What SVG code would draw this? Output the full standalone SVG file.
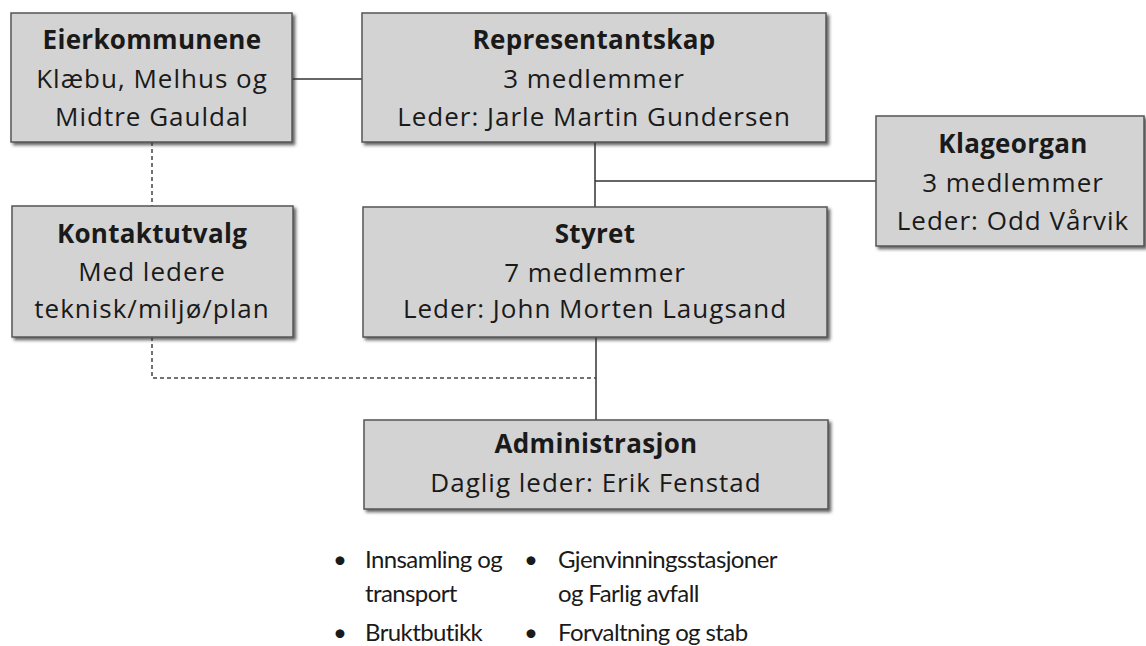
<svg xmlns="http://www.w3.org/2000/svg" width="1146" height="646" viewBox="0 0 1146 646">
  <defs>
    <filter id="sh" x="-5%" y="-10%" width="115%" height="130%">
      <feDropShadow dx="2.5" dy="2.5" stdDeviation="1.5" flood-color="#333" flood-opacity="0.75"/>
    </filter>
    <style>
      .box { fill: #d3d3d3; stroke: #555; stroke-width: 1.5; filter: url(#sh); }
      text { font-family: "Open Sans", "Liberation Sans", sans-serif; font-size: 26px; fill: #1a1a1a; }
      .c { text-anchor: middle; letter-spacing: 1px; }
      .b { font-weight: bold; letter-spacing: 0.3px; }
      .bl { font-family: Lato, "Liberation Sans", sans-serif; font-size: 24px; letter-spacing: -0.6px; }
      .ln { stroke: #333; stroke-width: 1.5; fill: none; }
      .dash { stroke: #444; stroke-width: 1.5; fill: none; stroke-dasharray: 4 3; }
    </style>
  </defs>
  <rect width="1146" height="646" fill="#fff"/>

  <g id="connectors">
    <line class="ln" x1="292" y1="79" x2="362" y2="79"/>
    <line class="ln" x1="595" y1="142" x2="595" y2="207"/>
    <line class="ln" x1="595" y1="181" x2="876" y2="181"/>
    <line class="ln" x1="596" y1="337" x2="596" y2="420"/>
    <line class="dash" x1="152" y1="142" x2="152" y2="206"/>
    <polyline class="dash" points="152,337 152,378 596,378"/>
  </g>

  <g id="eierkommunene">
    <rect class="box" x="11" y="13" width="281" height="129"/>
    <text class="c b" x="152" y="49">Eierkommunene</text>
    <text class="c" x="152" y="88">Klæbu, Melhus og</text>
    <text class="c" x="152" y="126">Midtre Gauldal</text>
  </g>

  <g id="representantskap">
    <rect class="box" x="362" y="13" width="464" height="129"/>
    <text class="c b" x="594" y="49">Representantskap</text>
    <text class="c" x="594" y="88">3 medlemmer</text>
    <text class="c" x="594" y="126">Leder: Jarle Martin Gundersen</text>
  </g>

  <g id="klageorgan">
    <rect class="box" x="876" y="116" width="268" height="130"/>
    <text class="c b" x="1013" y="153">Klageorgan</text>
    <text class="c" x="1013" y="192">3 medlemmer</text>
    <text class="c" x="1013" y="230">Leder: Odd Vårvik</text>
  </g>

  <g id="kontaktutvalg">
    <rect class="box" x="12" y="206" width="281" height="131"/>
    <text class="c b" x="152" y="243">Kontaktutvalg</text>
    <text class="c" x="152" y="281">Med ledere</text>
    <text class="c" x="152" y="318">teknisk/miljø/plan</text>
  </g>

  <g id="styret">
    <rect class="box" x="363" y="207" width="464" height="130"/>
    <text class="c b" x="595" y="243">Styret</text>
    <text class="c" x="595" y="282">7 medlemmer</text>
    <text class="c" x="595" y="318">Leder: John Morten Laugsand</text>
  </g>

  <g id="administrasjon">
    <rect class="box" x="364" y="420" width="464" height="89"/>
    <text class="c b" x="596" y="453">Administrasjon</text>
    <text class="c" x="596" y="492">Daglig leder: Erik Fenstad</text>
  </g>

  <g id="bullets">
    <text class="bl" x="333" y="568">•</text>
    <text class="bl" x="365" y="568">Innsamling og</text>
    <text class="bl" x="365" y="602">transport</text>
    <text class="bl" x="333" y="641">•</text>
    <text class="bl" x="365" y="641">Bruktbutikk</text>
    <text class="bl" x="524" y="568">•</text>
    <text class="bl" x="558" y="568">Gjenvinningsstasjoner</text>
    <text class="bl" x="558" y="602">og Farlig avfall</text>
    <text class="bl" x="524" y="641">•</text>
    <text class="bl" x="558" y="641">Forvaltning og stab</text>
  </g>
</svg>
